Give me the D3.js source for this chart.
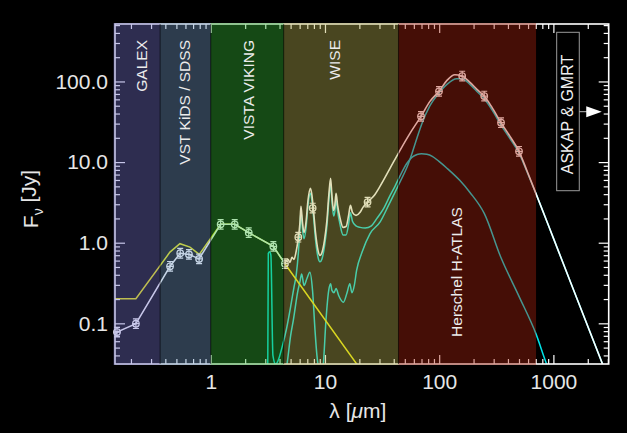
<!DOCTYPE html>
<html>
<head>
<meta charset="utf-8">
<script src="https://cdn.jsdelivr.net/npm/d3@7"></script>
<style>
  html, body { margin: 0; padding: 0; background: #000; }
  svg { display: block; }
</style>
</head>
<body>
<svg id="chart" width="627" height="433"></svg>
<script>
// ---- Photometry (wavelength in micron, flux density in Jy) ----
const photWavelength = [0.151, 0.221, 0.44, 0.54, 0.644, 0.79, 1.22, 1.62, 2.15, 3.53, 4.46, 5.84, 7.8, 23.6, 69.3, 99.6, 159, 248, 348, 500];
const photFlux       = [0.078, 0.099, 0.51, 0.74, 0.716, 0.63, 1.69, 1.69, 1.33, 0.90, 0.549, 1.17, 2.69, 3.19, 36.9, 75.4, 116.7, 65.9, 30.8, 13.6];

// ---- Total model SED ----
const totalWavelength = [0.145, 0.151, 0.221, 0.44, 0.54, 0.644, 0.79, 1.22, 1.62, 2.15, 3.53, 4.46, 4.74, 4.94, 5.14, 5.35, 5.57, 5.80, 6.04, 6.16, 6.35, 6.55, 6.82, 7.10, 7.46, 7.69, 7.93, 8.26, 8.69, 9.04, 9.41, 9.90, 10.4, 10.8, 11.2, 11.5, 11.9, 12.2, 12.5, 12.9, 13.5, 14.4, 15.3, 16.1, 16.7, 17.4, 18.7, 20.3, 21.5, 23.7, 27.4, 30.3, 37.1, 45.4, 55.5, 69.3, 83.0, 99.6, 117, 137, 158, 186, 214, 248, 290, 348, 417, 500, 587, 704, 1000, 2700, 3100];
const totalFlux       = [0.071, 0.078, 0.099, 0.51, 0.74, 0.716, 0.63, 1.69, 1.69, 1.33, 0.90, 0.549, 0.621, 0.570, 0.657, 0.621, 0.758, 1.07, 1.79, 2.82, 1.79, 1.34, 1.79, 3.35, 4.72, 3.86, 2.52, 1.34, 0.803, 0.696, 0.758, 1.07, 1.89, 3.86, 6.28, 3.86, 2.52, 2.90, 4.09, 2.90, 2.06, 1.55, 1.59, 2.18, 2.90, 2.38, 2.18, 2.38, 2.74, 3.19, 3.97, 4.99, 8.35, 14.0, 22.7, 36.9, 56.6, 75.4, 103, 121, 117, 97.4, 79.8, 65.9, 47.7, 30.8, 20.8, 13.6, 7.8, 4.06, 1.14, 0.031, 0.019];

// ---- Unattenuated stellar emission ----
const starWavelength = [0.145, 0.221, 0.439, 0.537, 0.657, 0.793, 1.22, 1.62, 2.15, 3.53, 4.46, 25];
const starFlux       = [0.202, 0.202, 0.764, 0.972, 0.882, 0.716, 1.69, 1.69, 1.33, 0.90, 0.549, 0.0181];

// ---- Warm dust (PAH-rich) component ----
const warmWavelength = [3.15, 3.19, 3.28, 3.36, 3.5, 3.7, 3.9, 4.2, 4.6, 5.0, 5.35, 5.6, 5.85, 6.04, 6.16, 6.35, 6.55, 6.82, 7.10, 7.46, 7.69, 7.93, 8.26, 8.69, 9.04, 9.41, 9.90, 10.4, 10.8, 11.2, 11.5, 11.9, 12.2, 12.5, 12.9, 13.5, 14.4, 15.3, 16.1, 16.7, 17.4, 18.7, 20.3, 22.5, 25.5, 28.5, 32.4, 37, 41, 46, 52, 58, 64, 70, 78, 87, 99.6, 117, 152, 186, 248, 348, 500, 704, 870, 1000];
const warmFlux       = [0.02, 0.74, 0.77, 0.70, 0.04, 0.031, 0.035, 0.05, 0.085, 0.16, 0.28, 0.40, 0.75, 1.5, 2.45, 1.5, 1.12, 1.5, 2.9, 4.1, 3.3, 2.15, 1.1, 0.66, 0.58, 0.63, 0.9, 1.6, 3.3, 5.4, 3.3, 2.15, 2.45, 3.5, 2.45, 1.72, 1.25, 1.25, 1.7, 2.35, 1.85, 1.62, 1.55, 1.52, 1.62, 2.0, 2.6, 3.8, 5.0, 7.0, 9.6, 11.5, 12.4, 12.7, 12.5, 11.8, 10.2, 8.4, 5.9, 4.2, 2.31, 0.65, 0.216, 0.074, 0.0316, 0.0196];

// ---- Cold dust component ----
const coldWavelength = [4.4, 4.65, 5.0, 5.28, 5.8, 6.04, 6.25, 6.55, 6.95, 7.38, 7.78, 8.18, 8.5, 8.9, 9.3, 9.66, 10.2, 10.8, 11.2, 11.5, 12.0, 12.5, 13.2, 14.5, 15.6, 16.5, 17.2, 18.1, 18.9, 21.1, 24.8, 30.3, 36, 41, 46, 52, 58, 64, 70, 83, 98, 117, 142, 158, 186, 214, 248, 290, 348, 417, 500, 587, 704, 1000, 2700, 3100];
const coldFlux       = [0.02, 0.031, 0.07, 0.109, 0.256, 0.33, 0.41, 0.295, 0.36, 0.43, 0.256, 0.082, 0.04, 0.025, 0.02, 0.03, 0.109, 0.26, 0.31, 0.256, 0.24, 0.27, 0.22, 0.183, 0.24, 0.31, 0.24, 0.30, 0.45, 0.76, 1.3, 1.8, 2.9, 4.2, 5.9, 8.5, 13, 20, 29, 50, 70, 92, 108, 108, 92, 75, 61, 44.5, 28.8, 19.5, 12.9, 7.6, 4.05, 1.14, 0.031, 0.019];

// ---- Surveys ----
const surveyNames   = ["GALEX", "VST KiDS / SDSS", "VISTA VIKING", "WISE", "Herschel H-ATLAS"];
const surveyFrom    = [0.145, 0.36, 1.0, 4.35, 44];
const surveyTo      = [0.36, 1.0, 4.35, 44, 705];
const surveyLabelAt = [0.248, 0.594, 2.12, 12.2, 142];
const surveyColors  = ["rgb(115,112,200)", "rgb(112,150,192)", "rgb(52,182,52)", "rgb(182,176,80)", "rgb(172,35,14)"];
const radioLabel    = "ASKAP & GMRT";
const radioLabelAt  = 1342;

// ---- Axis ticks ----
const xMajorTicks  = [1, 10, 100, 1000];
const xTickLabels  = ["1", "10", "100", "1000"];
const yMajorTicks  = [0.1, 1, 10, 100];
const yTickLabels  = ["0.1", "1.0", "10.0", "100.0"];

// ---------------------------------------------------------------
const svg = d3.select("#chart");
const W = 627, H = 433;
const L = 115, R = 608.7, T = 24, B = 364;
const FONT = "'Liberation Sans', Arial, sans-serif";

svg.append("rect").attr("width", W).attr("height", H).attr("fill", "#000");

const x = d3.scaleLog().domain([0.145, 3050]).range([L, R]);
const y = d3.scaleLog().domain([0.0313, 516]).range([B, T]);

const zip = (a, b) => a.map((v, i) => [v, b[i]]);
const line = curve => d3.line().x(d => x(d[0])).y(d => y(d[1])).curve(curve);

svg.append("defs").append("clipPath").attr("id", "plotClip")
  .append("rect").attr("x", L).attr("y", T).attr("width", R - L).attr("height", B - T);

const plot = svg.append("g").attr("clip-path", "url(#plotClip)");

// dust components
const CYAN = "#00e2e6";
plot.append("path").datum(zip(coldWavelength, coldFlux))
  .attr("d", line(d3.curveMonotoneX)).attr("fill", "none")
  .attr("stroke", CYAN).attr("stroke-width", 1.5);
plot.append("path").datum(zip(warmWavelength, warmFlux))
  .attr("d", line(d3.curveMonotoneX)).attr("fill", "none")
  .attr("stroke", CYAN).attr("stroke-width", 1.5);

// stars
plot.append("path").datum(zip(starWavelength, starFlux))
  .attr("d", line(d3.curveLinear)).attr("fill", "none")
  .attr("stroke", "#f0f000").attr("stroke-width", 1.5);

// total model: straight segments through the optical, smooth in the infrared
const totalPts = zip(totalWavelength, totalFlux);
const splitAt = totalWavelength.indexOf(4.46);
plot.append("path").datum(totalPts.slice(0, splitAt + 1))
  .attr("d", line(d3.curveLinear)).attr("fill", "none")
  .attr("stroke", "#fff").attr("stroke-width", 1.5);
plot.append("path").datum(totalPts.slice(splitAt))
  .attr("d", line(d3.curveMonotoneX)).attr("fill", "none")
  .attr("stroke", "#fff").attr("stroke-width", 1.6);

// photometric points
const pts = svg.append("g").selectAll("g").data(zip(photWavelength, photFlux)).join("g")
  .attr("transform", d => `translate(${x(d[0])},${y(d[1])})`)
  .attr("stroke", "#fff").attr("stroke-width", 1.2).attr("fill", "none");
pts.append("circle").attr("r", 3.3);
pts.append("path").attr("d", "M-3.3,0H3.3M0,-4.8V4.8M-3,-4.8H3M-3,4.8H3");

// ---- axes (ticks pointing inwards on all four sides) ----
const xMinor = [], yMinor = [];
for (let e = -1; e <= 3; e++) for (let m = 2; m <= 9; m++) {
  const v = m * Math.pow(10, e);
  if (v > 0.145 && v < 3050) xMinor.push(v);
}
for (let e = -2; e <= 2; e++) for (let m = 2; m <= 9; m++) {
  const v = m * Math.pow(10, e);
  if (v > 0.0313 && v < 516) yMinor.push(v);
}

const axes = svg.append("g").attr("class", "axes");
function styleAxis(g) {
  g.select(".domain").remove();
  g.selectAll("line").attr("stroke", "#fff").attr("stroke-width", 1.2);
  g.selectAll("text").attr("fill", "#e6e6e6").attr("font-family", FONT).attr("font-size", 21);
}
axes.append("g").attr("transform", `translate(0,${B})`)
  .call(d3.axisBottom(x).tickValues(xMajorTicks).tickSize(-9).tickPadding(10).tickFormat((d, i) => xTickLabels[i]))
  .call(styleAxis);
axes.append("g").attr("transform", `translate(0,${B})`)
  .call(d3.axisBottom(x).tickValues(xMinor).tickSize(-5).tickFormat(""))
  .call(styleAxis);
axes.append("g").attr("transform", `translate(0,${T})`)
  .call(d3.axisTop(x).tickValues(xMajorTicks).tickSize(-9).tickFormat(""))
  .call(styleAxis);
axes.append("g").attr("transform", `translate(0,${T})`)
  .call(d3.axisTop(x).tickValues(xMinor).tickSize(-5).tickFormat(""))
  .call(styleAxis);
axes.append("g").attr("transform", `translate(${L},0)`)
  .call(d3.axisLeft(y).tickValues(yMajorTicks).tickSize(-10).tickPadding(7).tickFormat((d, i) => yTickLabels[i]))
  .call(styleAxis);
axes.append("g").attr("transform", `translate(${L},0)`)
  .call(d3.axisLeft(y).tickValues(yMinor).tickSize(-5).tickFormat(""))
  .call(styleAxis);
axes.append("g").attr("transform", `translate(${R},0)`)
  .call(d3.axisRight(y).tickValues(yMajorTicks).tickSize(-10).tickFormat(""))
  .call(styleAxis);
axes.append("g").attr("transform", `translate(${R},0)`)
  .call(d3.axisRight(y).tickValues(yMinor).tickSize(-5).tickFormat(""))
  .call(styleAxis);
axes.append("rect").attr("x", L).attr("y", T).attr("width", R - L).attr("height", B - T)
  .attr("fill", "none").attr("stroke", "#fff").attr("stroke-width", 1.6);

// ---- translucent survey bands over everything inside the frame ----
const bands = svg.append("g");
surveyNames.forEach((name, i) => {
  const x0 = i === 0 ? L - 1.5 : x(surveyFrom[i]);
  const x1 = x(surveyTo[i]);
  bands.append("rect")
    .attr("x", x0).attr("y", T - 1).attr("width", x1 - x0).attr("height", B - T + 2)
    .attr("fill", surveyColors[i]).attr("opacity", 0.4);
});
surveyFrom.slice(1).forEach(v => {
  bands.append("line").attr("x1", x(v)).attr("x2", x(v)).attr("y1", T).attr("y2", B)
    .attr("stroke", "#000").attr("stroke-opacity", 0.55).attr("stroke-width", 1);
});

// ---- survey labels ----
const labels = svg.append("g").attr("font-family", FONT).attr("font-size", 15.5).attr("fill", "#ececec");
surveyNames.forEach((name, i) => {
  const cx = x(surveyLabelAt[i]);
  const last = i === surveyNames.length - 1;
  labels.append("text")
    .attr("transform", `translate(${cx},${last ? 272 : 40}) rotate(-90)`)
    .attr("text-anchor", last ? "middle" : "end")
    .attr("dominant-baseline", "central")
    .text(name);
});

// radio label in a box with an arrow
const rx = x(radioLabelAt);
const boxTop = 32.3, boxBot = 190.7, boxW = 22.6;
svg.append("rect").attr("x", rx - boxW / 2).attr("y", boxTop).attr("width", boxW).attr("height", boxBot - boxTop)
  .attr("fill", "none").attr("stroke", "#9a9a9a").attr("stroke-width", 1);
svg.append("text")
  .attr("transform", `translate(${rx},${(boxTop + boxBot) / 2 + 3}) rotate(-90)`)
  .attr("text-anchor", "middle").attr("dominant-baseline", "central")
  .attr("font-family", FONT).attr("font-size", 16).attr("fill", "#f0f0f0")
  .text(radioLabel);
const ay = 111.7, ax0 = rx + boxW / 2;
svg.append("line").attr("x1", ax0).attr("x2", ax0 + 8).attr("y1", ay).attr("y2", ay)
  .attr("stroke", "#bbb").attr("stroke-width", 1);
svg.append("path").attr("d", `M${ax0 + 7},${ay - 5.5}L${ax0 + 22.5},${ay}L${ax0 + 7},${ay + 5.5}Z`)
  .attr("fill", "#fff");

// ---- axis titles ----
svg.append("text")
  .attr("x", (L + R) / 2 - 4).attr("y", 418)
  .attr("text-anchor", "middle").attr("font-family", FONT).attr("font-size", 21).attr("fill", "#e6e6e6")
  .call(t => {
    t.append("tspan").text("λ [");
    t.append("tspan").attr("font-style", "italic").text("μ");
    t.append("tspan").text("m]");
  });
svg.append("text")
  .attr("transform", "translate(38,199) rotate(-90)")
  .attr("text-anchor", "middle").attr("font-family", FONT).attr("font-size", 21).attr("fill", "#e6e6e6")
  .call(t => {
    t.append("tspan").text("F");
    t.append("tspan").attr("font-size", 14).attr("dy", "0.35em").text("ν");
    t.append("tspan").attr("dy", "-0.35em").text(" [Jy]");
  });
</script>
</body>
</html>
